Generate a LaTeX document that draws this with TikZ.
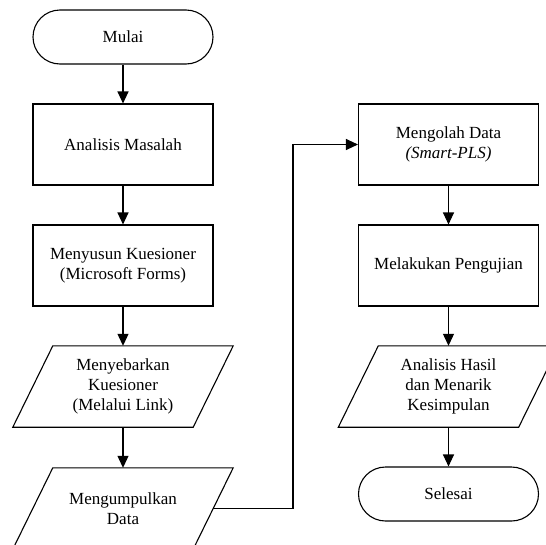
\documentclass[tikz,border=0pt]{standalone}
\usepackage{fontspec}
\setmainfont{Liberation Serif}
\usetikzlibrary{arrows.meta,calc}
\tikzset{
  base/.style={minimum width=180pt, align=center, inner sep=0pt, font=\fontsize{17}{20}\selectfont},
  term/.style={base, draw, line width=1.1pt, rounded corners=27pt, minimum height=54pt},
  procbox/.style={base, draw, line width=1.1pt, minimum height=81pt},
  iobox/.style={base, minimum height=81pt},
  conn/.style={line width=1.1pt, -{Triangle[width=11pt,length=12pt]}},
  plain/.style={line width=1.1pt}
}
\newcommand{\paraframe}[1]{%
  \draw[plain] ($(#1.north west)+(20pt,0)$) -- ($(#1.north east)+(20pt,0)$) --
    ($(#1.south east)-(20pt,0)$) -- ($(#1.south west)-(20pt,0)$) -- cycle;}
\begin{document}
\begin{tikzpicture}[x=1pt,y=-1pt]
\useasboundingbox (0,0) rectangle (546,544);
\clip (0,0) rectangle (546,544);
% left column
\node[term] (mulai) at (123,37) {Mulai};
\node[procbox] (masalah) at (123,144.5) {Analisis Masalah};
\node[procbox] (susun) at (123,265.5) {Menyusun Kuesioner\\(Microsoft Forms)};
\node[iobox] (sebar) at (123,386.5) {Menyebarkan\\Kuesioner\\(Melalui Link)};
\paraframe{sebar}
\node[iobox] (kumpul) at (123,508.5) {Mengumpulkan\\Data};
\paraframe{kumpul}
% right column
\node[procbox] (olah) at (448.5,144.5) {Mengolah Data\\\textit{(Smart-PLS)}};
\node[procbox] (uji) at (448.5,265.5) {Melakukan Pengujian};
\node[iobox] (hasil) at (448.5,386.5) {Analisis Hasil\\dan Menarik\\Kesimpulan};
\paraframe{hasil}
\node[term] (selesai) at (448.5,494) {Selesai};
% connectors
\draw[conn] (mulai) -- (masalah);
\draw[conn] (masalah) -- (susun);
\draw[conn] (susun) -- (sebar);
\draw[conn] (sebar) -- (kumpul);
\coordinate (turn) at (293,0);
\draw[conn] (kumpul.east) -- (kumpul.east -| turn) -- (turn |- olah.west) -- (olah.west);
\draw[conn] (olah) -- (uji);
\draw[conn] (uji) -- (hasil);
\draw[conn] (hasil) -- (selesai);
\end{tikzpicture}
\end{document}
